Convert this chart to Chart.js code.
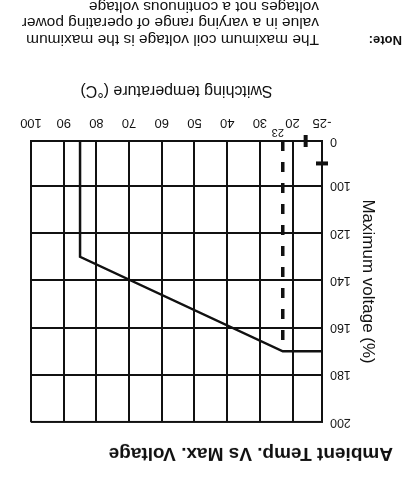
<!DOCTYPE html>
<html>
<head>
<meta charset="utf-8">
<title>Ambient Temp. Vs Max. Voltage</title>
<script src="https://cdn.jsdelivr.net/npm/chart.js@4.4.1/dist/chart.umd.min.js"></script>
<style>
    body { margin: 0; background: #fff; }
    #page {
        position: absolute; left: 0; top: 0;
        width: 405px; height: 477px;
        overflow: hidden; background: #fff;
        transform: rotate(180deg);
        font-family: "Liberation Sans", Arial, sans-serif;
        color: #111;
    }
    #chartBox { position: absolute; left: 0; top: 0; width: 405px; height: 400px; }
    #note {
        position: absolute; left: 0; top: 429px;
        display: flex; white-space: nowrap;
        font-size: 15.5px; line-height: 16.5px;
    }
    #note b { display: block; width: 83px; padding-left: 3px; font-size: 13px; }
</style>
</head>
<body>
<div id="page">
    <div id="chartBox"><canvas id="tempChart" width="405" height="400"></canvas></div>
    <div id="note">
        <b>Note:</b>
        <div>The maximum coil voltage is the maximum<br>value in a varying range of operating power<br>voltages not a continuous voltage</div>
    </div>
</div>
<script>
var tempTicks = [-25, 20, 30, 40, 50, 60, 70, 80, 90, 100];
var voltTicks = [0, 100, 120, 140, 160, 180, 200];

// derating curve
var curveTemps = [-25, 23, 85, 85];
var curveVolts = [170, 170, 130, 0];

// dashed line at 23 C
var ambientTemp = 23;
var ambientVolts = [0, 170];

// axis break marks
var breakTemp = 0;
var breakVolt = 50;

// both axes are broken: -25..20 and 0..100 take about one grid cell
function tempToAxis(t) {
    return t < 20 ? (t + 25) / 45 * 0.9 : 0.9 + (t - 20) / 10;
}
function voltToAxis(v) {
    return v < 100 ? v / 100 * 0.95 : 0.95 + (v - 100) / 20;
}

var font = '"Liberation Sans", Arial, sans-serif';

var curveData = curveTemps.map(function (t, i) {
    return {x: tempToAxis(t), y: voltToAxis(curveVolts[i])};
});
var ambientData = ambientVolts.map(function (v) {
    return {x: tempToAxis(ambientTemp), y: voltToAxis(v)};
});

var smallTickLabel = {
    id: 'smallTickLabel',
    afterDraw: function (chart) {
        var ctx = chart.ctx;
        var x = chart.scales.x.getPixelForValue(tempToAxis(ambientTemp));
        ctx.save();
        ctx.font = '11px ' + font;
        ctx.fillStyle = '#111';
        ctx.textAlign = 'center';
        ctx.textBaseline = 'middle';
        ctx.fillText(String(ambientTemp), x + 5, chart.chartArea.bottom + 9);
        ctx.restore();
    }
};

new Chart(document.getElementById('tempChart').getContext('2d'), {
    type: 'scatter',
    data: {
        datasets: [
            {
                data: curveData,
                showLine: true,
                borderColor: '#111',
                borderWidth: 2.5,
                pointRadius: 0,
                tension: 0
            },
            {
                data: ambientData,
                showLine: true,
                borderColor: '#111',
                borderWidth: 3.5,
                borderDash: [10, 11],
                pointRadius: 0
            },
            {
                data: [{x: tempToAxis(breakTemp), y: 0}],
                pointStyle: 'line',
                rotation: 90,
                pointRadius: 6,
                borderWidth: 4,
                borderColor: '#111',
                clip: false
            },
            {
                data: [{x: 0, y: voltToAxis(breakVolt)}],
                pointStyle: 'line',
                rotation: 0,
                pointRadius: 6,
                borderWidth: 4,
                borderColor: '#111',
                clip: false
            }
        ]
    },
    options: {
        responsive: false,
        animation: false,
        devicePixelRatio: 1,
        layout: {padding: {left: 12, right: 31, top: 0, bottom: 0}},
        plugins: {
            legend: {display: false},
            tooltip: {enabled: false},
            title: {
                display: true,
                text: 'Ambient Temp. Vs Max. Voltage',
                align: 'start',
                color: '#111',
                font: {family: font, size: 19, weight: 'bold'},
                padding: {top: 12, bottom: 20}
            }
        },
        scales: {
            x: {
                type: 'linear',
                min: 0,
                max: tempToAxis(100),
                afterBuildTicks: function (scale) {
                    scale.ticks = tempTicks.map(function (t) { return {value: tempToAxis(t)}; });
                },
                afterFit: function (scale) { scale.height = 64; },
                ticks: {
                    autoSkip: false,
                    maxRotation: 0,
                    padding: 11,
                    color: '#111',
                    font: {family: font, size: 13},
                    callback: function (value, index) { return tempTicks[index]; }
                },
                grid: {color: '#111', lineWidth: 2, drawTicks: false},
                border: {color: '#111', width: 2},
                title: {
                    display: true,
                    text: 'Switching temperature (°C)',
                    color: '#111',
                    font: {family: font, size: 16},
                    padding: {top: 7}
                }
            },
            y: {
                type: 'linear',
                min: 0,
                max: voltToAxis(200),
                afterBuildTicks: function (scale) {
                    scale.ticks = voltTicks.map(function (v) { return {value: voltToAxis(v)}; });
                },
                afterFit: function (scale) { scale.width = 71; },
                ticks: {
                    autoSkip: false,
                    padding: 8,
                    color: '#111',
                    font: {family: font, size: 12.5},
                    callback: function (value, index) { return voltTicks[index]; }
                },
                grid: {color: '#111', lineWidth: 2, drawTicks: false},
                border: {color: '#111', width: 2},
                title: {
                    display: true,
                    text: 'Maximum voltage (%)',
                    color: '#111',
                    font: {family: font, size: 17},
                    padding: {top: 15}
                }
            }
        }
    },
    plugins: [smallTickLabel]
});
</script>
</body>
</html>
